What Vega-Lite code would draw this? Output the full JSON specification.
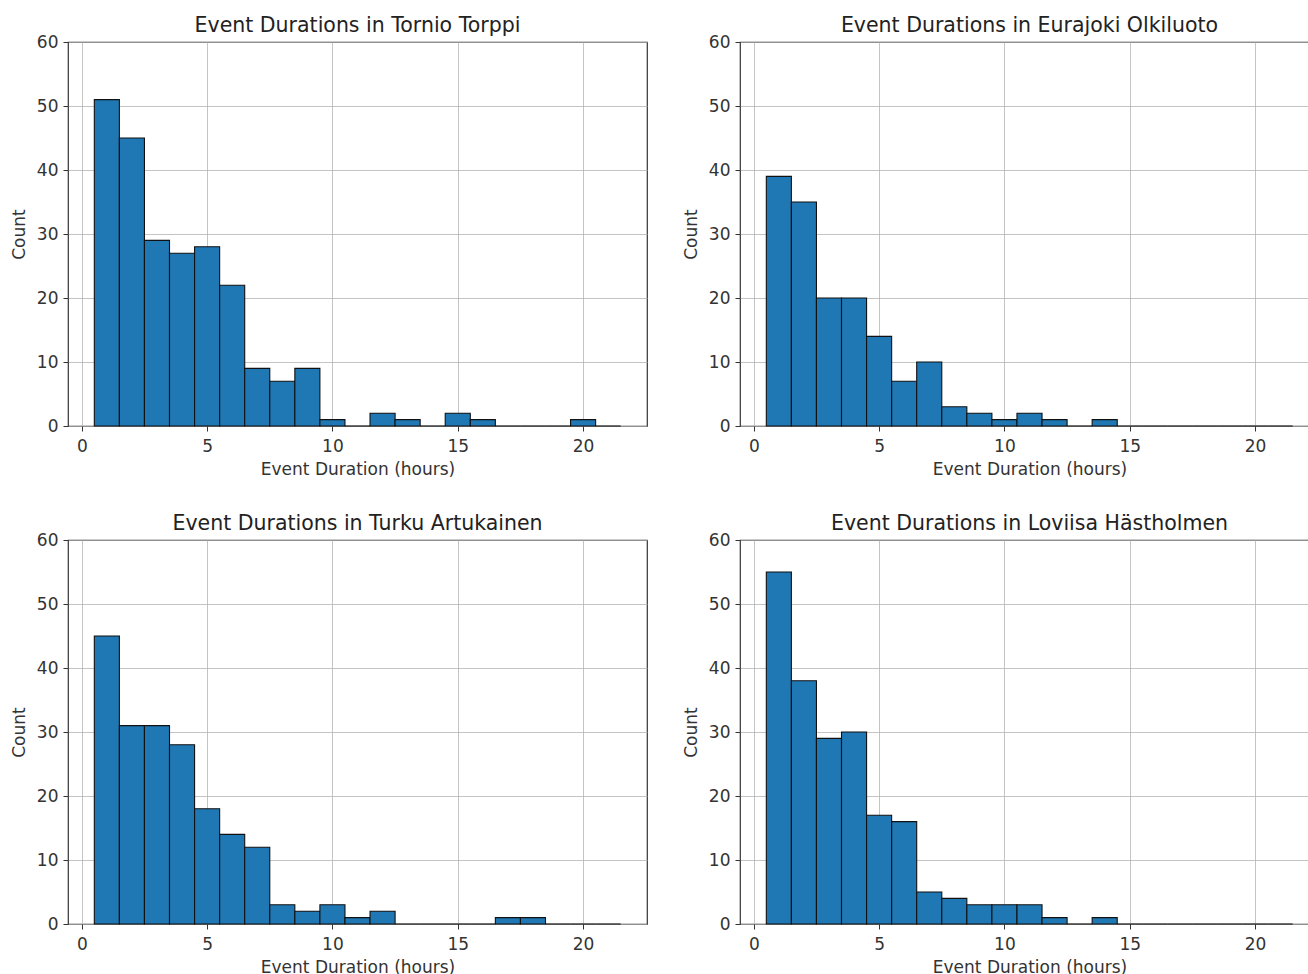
{
  "$schema": "https://vega.github.io/schema/vega-lite/v6.json",
  "padding": {"left": 9, "top": 14, "right": 0, "bottom": 0},
  "background": "white",
  "spacing": 34,
  "config": {
    "font": "DejaVu Sans",
    "view": {"stroke": "#333333", "strokeWidth": 1.2},
    "title": {"fontSize": 20.5, "fontWeight": "normal", "color": "#222222", "offset": -3},
    "axis": {
      "labelFontSize": 17, "titleFontSize": 17, "titleFontWeight": "normal",
      "labelColor": "#333333", "titleColor": "#333333",
      "domain": false, "tickColor": "#333333", "tickSize": 5,
      "gridColor": "#b0b0b0", "gridOpacity": 0.75, "gridWidth": 1
    },
    "axisX": {"titlePadding": 7, "labelPadding": 7},
    "axisY": {"titlePadding": 8, "labelPadding": 5}
  },
  "datasets": {
    "hist": [
      {"station": "Tornio Torppi", "start": 0.5, "end": 1.5, "count": 51},
      {"station": "Tornio Torppi", "start": 1.5, "end": 2.5, "count": 45},
      {"station": "Tornio Torppi", "start": 2.5, "end": 3.5, "count": 29},
      {"station": "Tornio Torppi", "start": 3.5, "end": 4.5, "count": 27},
      {"station": "Tornio Torppi", "start": 4.5, "end": 5.5, "count": 28},
      {"station": "Tornio Torppi", "start": 5.5, "end": 6.5, "count": 22},
      {"station": "Tornio Torppi", "start": 6.5, "end": 7.5, "count": 9},
      {"station": "Tornio Torppi", "start": 7.5, "end": 8.5, "count": 7},
      {"station": "Tornio Torppi", "start": 8.5, "end": 9.5, "count": 9},
      {"station": "Tornio Torppi", "start": 9.5, "end": 10.5, "count": 1},
      {"station": "Tornio Torppi", "start": 10.5, "end": 11.5, "count": 0},
      {"station": "Tornio Torppi", "start": 11.5, "end": 12.5, "count": 2},
      {"station": "Tornio Torppi", "start": 12.5, "end": 13.5, "count": 1},
      {"station": "Tornio Torppi", "start": 13.5, "end": 14.5, "count": 0},
      {"station": "Tornio Torppi", "start": 14.5, "end": 15.5, "count": 2},
      {"station": "Tornio Torppi", "start": 15.5, "end": 16.5, "count": 1},
      {"station": "Tornio Torppi", "start": 16.5, "end": 17.5, "count": 0},
      {"station": "Tornio Torppi", "start": 17.5, "end": 18.5, "count": 0},
      {"station": "Tornio Torppi", "start": 18.5, "end": 19.5, "count": 0},
      {"station": "Tornio Torppi", "start": 19.5, "end": 20.5, "count": 1},
      {"station": "Tornio Torppi", "start": 20.5, "end": 21.5, "count": 0},
      {"station": "Eurajoki Olkiluoto", "start": 0.5, "end": 1.5, "count": 39},
      {"station": "Eurajoki Olkiluoto", "start": 1.5, "end": 2.5, "count": 35},
      {"station": "Eurajoki Olkiluoto", "start": 2.5, "end": 3.5, "count": 20},
      {"station": "Eurajoki Olkiluoto", "start": 3.5, "end": 4.5, "count": 20},
      {"station": "Eurajoki Olkiluoto", "start": 4.5, "end": 5.5, "count": 14},
      {"station": "Eurajoki Olkiluoto", "start": 5.5, "end": 6.5, "count": 7},
      {"station": "Eurajoki Olkiluoto", "start": 6.5, "end": 7.5, "count": 10},
      {"station": "Eurajoki Olkiluoto", "start": 7.5, "end": 8.5, "count": 3},
      {"station": "Eurajoki Olkiluoto", "start": 8.5, "end": 9.5, "count": 2},
      {"station": "Eurajoki Olkiluoto", "start": 9.5, "end": 10.5, "count": 1},
      {"station": "Eurajoki Olkiluoto", "start": 10.5, "end": 11.5, "count": 2},
      {"station": "Eurajoki Olkiluoto", "start": 11.5, "end": 12.5, "count": 1},
      {"station": "Eurajoki Olkiluoto", "start": 12.5, "end": 13.5, "count": 0},
      {"station": "Eurajoki Olkiluoto", "start": 13.5, "end": 14.5, "count": 1},
      {"station": "Eurajoki Olkiluoto", "start": 14.5, "end": 15.5, "count": 0},
      {"station": "Eurajoki Olkiluoto", "start": 15.5, "end": 16.5, "count": 0},
      {"station": "Eurajoki Olkiluoto", "start": 16.5, "end": 17.5, "count": 0},
      {"station": "Eurajoki Olkiluoto", "start": 17.5, "end": 18.5, "count": 0},
      {"station": "Eurajoki Olkiluoto", "start": 18.5, "end": 19.5, "count": 0},
      {"station": "Eurajoki Olkiluoto", "start": 19.5, "end": 20.5, "count": 0},
      {"station": "Eurajoki Olkiluoto", "start": 20.5, "end": 21.5, "count": 0},
      {"station": "Turku Artukainen", "start": 0.5, "end": 1.5, "count": 45},
      {"station": "Turku Artukainen", "start": 1.5, "end": 2.5, "count": 31},
      {"station": "Turku Artukainen", "start": 2.5, "end": 3.5, "count": 31},
      {"station": "Turku Artukainen", "start": 3.5, "end": 4.5, "count": 28},
      {"station": "Turku Artukainen", "start": 4.5, "end": 5.5, "count": 18},
      {"station": "Turku Artukainen", "start": 5.5, "end": 6.5, "count": 14},
      {"station": "Turku Artukainen", "start": 6.5, "end": 7.5, "count": 12},
      {"station": "Turku Artukainen", "start": 7.5, "end": 8.5, "count": 3},
      {"station": "Turku Artukainen", "start": 8.5, "end": 9.5, "count": 2},
      {"station": "Turku Artukainen", "start": 9.5, "end": 10.5, "count": 3},
      {"station": "Turku Artukainen", "start": 10.5, "end": 11.5, "count": 1},
      {"station": "Turku Artukainen", "start": 11.5, "end": 12.5, "count": 2},
      {"station": "Turku Artukainen", "start": 12.5, "end": 13.5, "count": 0},
      {"station": "Turku Artukainen", "start": 13.5, "end": 14.5, "count": 0},
      {"station": "Turku Artukainen", "start": 14.5, "end": 15.5, "count": 0},
      {"station": "Turku Artukainen", "start": 15.5, "end": 16.5, "count": 0},
      {"station": "Turku Artukainen", "start": 16.5, "end": 17.5, "count": 1},
      {"station": "Turku Artukainen", "start": 17.5, "end": 18.5, "count": 1},
      {"station": "Turku Artukainen", "start": 18.5, "end": 19.5, "count": 0},
      {"station": "Turku Artukainen", "start": 19.5, "end": 20.5, "count": 0},
      {"station": "Turku Artukainen", "start": 20.5, "end": 21.5, "count": 0},
      {"station": "Loviisa Hästholmen", "start": 0.5, "end": 1.5, "count": 55},
      {"station": "Loviisa Hästholmen", "start": 1.5, "end": 2.5, "count": 38},
      {"station": "Loviisa Hästholmen", "start": 2.5, "end": 3.5, "count": 29},
      {"station": "Loviisa Hästholmen", "start": 3.5, "end": 4.5, "count": 30},
      {"station": "Loviisa Hästholmen", "start": 4.5, "end": 5.5, "count": 17},
      {"station": "Loviisa Hästholmen", "start": 5.5, "end": 6.5, "count": 16},
      {"station": "Loviisa Hästholmen", "start": 6.5, "end": 7.5, "count": 5},
      {"station": "Loviisa Hästholmen", "start": 7.5, "end": 8.5, "count": 4},
      {"station": "Loviisa Hästholmen", "start": 8.5, "end": 9.5, "count": 3},
      {"station": "Loviisa Hästholmen", "start": 9.5, "end": 10.5, "count": 3},
      {"station": "Loviisa Hästholmen", "start": 10.5, "end": 11.5, "count": 3},
      {"station": "Loviisa Hästholmen", "start": 11.5, "end": 12.5, "count": 1},
      {"station": "Loviisa Hästholmen", "start": 12.5, "end": 13.5, "count": 0},
      {"station": "Loviisa Hästholmen", "start": 13.5, "end": 14.5, "count": 1},
      {"station": "Loviisa Hästholmen", "start": 14.5, "end": 15.5, "count": 0},
      {"station": "Loviisa Hästholmen", "start": 15.5, "end": 16.5, "count": 0},
      {"station": "Loviisa Hästholmen", "start": 16.5, "end": 17.5, "count": 0},
      {"station": "Loviisa Hästholmen", "start": 17.5, "end": 18.5, "count": 0},
      {"station": "Loviisa Hästholmen", "start": 18.5, "end": 19.5, "count": 0},
      {"station": "Loviisa Hästholmen", "start": 19.5, "end": 20.5, "count": 0},
      {"station": "Loviisa Hästholmen", "start": 20.5, "end": 21.5, "count": 0}
    ]
  },
  "vconcat": [
    {
      "spacing": 33,
      "hconcat": [
        {
          "title": "Event Durations in Tornio Torppi",
          "width": 579, "height": 384,
          "data": {"name": "hist"},
          "transform": [{"filter": "datum.station === 'Tornio Torppi'"}],
          "mark": {"type": "rect", "fill": "#1f77b4", "stroke": "#111111", "strokeWidth": 1.1},
          "encoding": {
            "x": {"field": "start", "type": "quantitative", "scale": {"domain": [-0.55, 22.55], "nice": false, "zero": false}, "axis": {"values": [0, 5, 10, 15, 20], "title": "Event Duration (hours)"}},
            "x2": {"field": "end"},
            "y": {"field": "count", "type": "quantitative", "scale": {"domain": [0, 60], "nice": false}, "axis": {"values": [0, 10, 20, 30, 40, 50, 60], "title": "Count"}}
          }
        },
        {
          "title": "Event Durations in Eurajoki Olkiluoto",
          "width": 579, "height": 384,
          "data": {"name": "hist"},
          "transform": [{"filter": "datum.station === 'Eurajoki Olkiluoto'"}],
          "mark": {"type": "rect", "fill": "#1f77b4", "stroke": "#111111", "strokeWidth": 1.1},
          "encoding": {
            "x": {"field": "start", "type": "quantitative", "scale": {"domain": [-0.55, 22.55], "nice": false, "zero": false}, "axis": {"values": [0, 5, 10, 15, 20], "title": "Event Duration (hours)"}},
            "x2": {"field": "end"},
            "y": {"field": "count", "type": "quantitative", "scale": {"domain": [0, 60], "nice": false}, "axis": {"values": [0, 10, 20, 30, 40, 50, 60], "title": "Count"}}
          }
        }
      ]
    },
    {
      "spacing": 33,
      "hconcat": [
        {
          "title": "Event Durations in Turku Artukainen",
          "width": 579, "height": 384,
          "data": {"name": "hist"},
          "transform": [{"filter": "datum.station === 'Turku Artukainen'"}],
          "mark": {"type": "rect", "fill": "#1f77b4", "stroke": "#111111", "strokeWidth": 1.1},
          "encoding": {
            "x": {"field": "start", "type": "quantitative", "scale": {"domain": [-0.55, 22.55], "nice": false, "zero": false}, "axis": {"values": [0, 5, 10, 15, 20], "title": "Event Duration (hours)"}},
            "x2": {"field": "end"},
            "y": {"field": "count", "type": "quantitative", "scale": {"domain": [0, 60], "nice": false}, "axis": {"values": [0, 10, 20, 30, 40, 50, 60], "title": "Count"}}
          }
        },
        {
          "title": "Event Durations in Loviisa Hästholmen",
          "width": 579, "height": 384,
          "data": {"name": "hist"},
          "transform": [{"filter": "datum.station === 'Loviisa Hästholmen'"}],
          "mark": {"type": "rect", "fill": "#1f77b4", "stroke": "#111111", "strokeWidth": 1.1},
          "encoding": {
            "x": {"field": "start", "type": "quantitative", "scale": {"domain": [-0.55, 22.55], "nice": false, "zero": false}, "axis": {"values": [0, 5, 10, 15, 20], "title": "Event Duration (hours)"}},
            "x2": {"field": "end"},
            "y": {"field": "count", "type": "quantitative", "scale": {"domain": [0, 60], "nice": false}, "axis": {"values": [0, 10, 20, 30, 40, 50, 60], "title": "Count"}}
          }
        }
      ]
    }
  ]
}
